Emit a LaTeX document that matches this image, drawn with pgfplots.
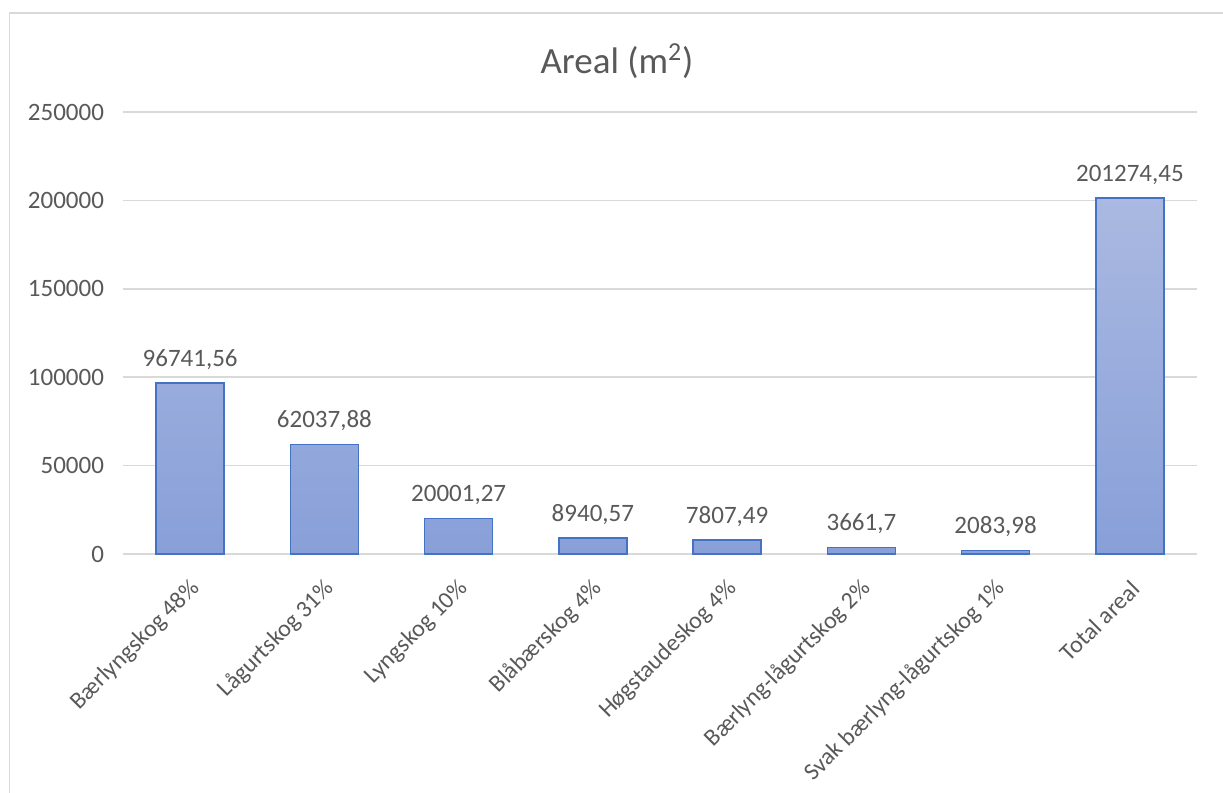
\documentclass[border=0pt]{standalone}
\usepackage{fontspec}
\setmainfont{Carlito}
\usepackage{pgfplots}
\pgfplotsset{compat=1.18}
\usepackage{pgfplotstable}
\definecolor{txt}{HTML}{595959}
\definecolor{gridgray}{HTML}{D9D9D9}
\definecolor{barline}{HTML}{4472C4}
\definecolor{bartop}{HTML}{AAB9E1}
\definecolor{barbot}{HTML}{889FD8}
\pgfplotstableread{
x y label
0 96741.56 96741,56
1 62037.88 62037,88
2 20001.27 20001,27
3 8940.57 8940,57
4 7807.49 7807,49
5 3661.7 3661,7
6 2083.98 2083,98
7 201274.45 201274,45
}\datatab
\begin{document}
\begin{tikzpicture}
\path[use as bounding box] (0pt,0pt) rectangle (611.5pt,-396.5pt);
\draw[gridgray, line width=0.8pt] (4.75pt,-500pt) -- (4.75pt,-6.5pt) -- (650pt,-6.5pt);
\node[txt, font=\fontsize{18.5}{22}\selectfont, anchor=base] at (308.5pt,-36.5pt) {Areal (m\textsuperscript{2})};
\begin{axis}[
  at={(61.5pt,-277pt)}, anchor=south west,
  scale only axis, width=537pt, height=221pt,
  xmin=-0.5, xmax=7.5, ymin=0, ymax=250000,
  axis line style={draw=none},
  major tick length=0pt,
  scaled y ticks=false,
  ymajorgrids, xmajorgrids=false,
  major grid style={draw=gridgray, line width=0.8pt},
  ytick={0,50000,100000,150000,200000,250000},
  yticklabels={0,50000,100000,150000,200000,250000},
  yticklabel style={txt, font=\fontsize{12.5}{14}\selectfont, xshift=-6pt},
  xtick={0,...,7},
  xticklabels={Bærlyngskog 48\%, Lågurtskog 31\%, Lyngskog 10\%, Blåbærskog 4\%, Høgstaudeskog 4\%, Bærlyng-lågurtskog 2\%, Svak bærlyng-lågurtskog 1\%, Total areal},
  xticklabel style={txt, font=\fontsize{12}{14}\selectfont, rotate=45, anchor=east, yshift=-13pt, xshift=-5.5pt},
  point meta=explicit symbolic,
  nodes near coords,
  every node near coord/.append style={txt, font=\fontsize{12.5}{14}\selectfont, yshift=3pt},
]
\addplot[ybar, bar width=34pt, draw=barline, line width=0.8pt, top color=bartop, bottom color=barbot]
  table[x=x, y=y, meta=label] {\datatab};
\end{axis}
\end{tikzpicture}
\end{document}
